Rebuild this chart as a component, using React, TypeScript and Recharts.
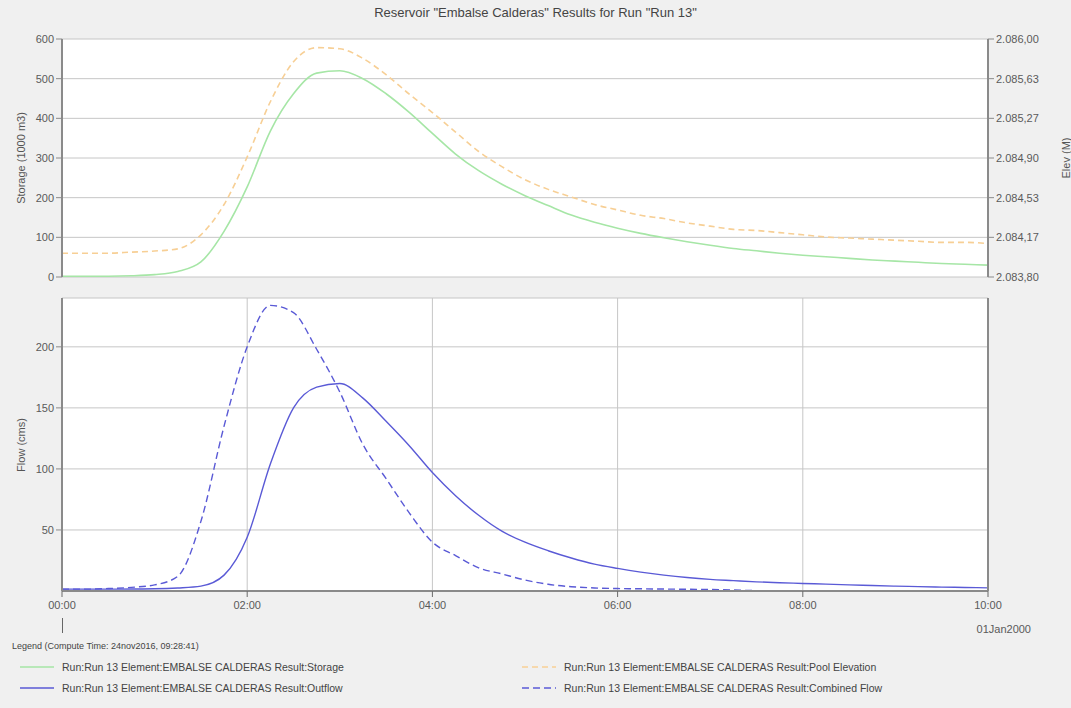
import React from "react";
import { LineChart, Line, CartesianGrid, XAxis, YAxis } from "recharts";

// time axis in hours after 00:00 01Jan2000, sampled every 15 min
const hours = [
  0, 0.25, 0.5, 0.75, 1, 1.25, 1.5, 1.75, 2, 2.25, 2.5, 2.75, 3, 3.25, 3.5, 3.75, 4, 4.25, 4.5, 4.75, 5,
  5.25, 5.5, 5.75, 6, 6.25, 6.5, 6.75, 7, 7.25, 7.5, 7.75, 8, 8.25, 8.5, 8.75, 9, 9.25, 9.5, 9.75, 10,
];
const storage = [
  2, 2, 2, 3, 6, 14, 38, 115, 227, 368, 462, 514, 520, 500, 462, 415, 362, 310, 268, 234, 205,
  180, 156, 138, 123, 110, 99, 89, 80, 72, 66, 60, 55, 51, 47, 43, 40, 37, 34, 32, 30,
];
const poolElevation = [
  2084.02, 2084.02, 2084.02, 2084.03, 2084.04, 2084.06, 2084.19, 2084.47, 2084.91, 2085.42, 2085.79, 2085.92,
  2085.91, 2085.82, 2085.67, 2085.49, 2085.32, 2085.14, 2084.96, 2084.82, 2084.7, 2084.61, 2084.54, 2084.47,
  2084.42, 2084.37, 2084.34, 2084.3, 2084.27, 2084.24, 2084.23, 2084.21, 2084.19, 2084.17, 2084.16, 2084.15,
  2084.14, 2084.13, 2084.12, 2084.12, 2084.11,
];
const outflow = [
  1.5, 1.5, 1.5, 1.6, 1.8, 2.5, 4, 13, 44, 104, 150, 167, 170, 158, 139, 119, 97, 78, 62, 49, 40,
  33, 27, 22, 18.5, 15.5, 13, 11, 9.5, 8.5, 7.5, 6.8, 6.2, 5.6, 5, 4.5, 4, 3.6, 3.2, 2.9, 2.6,
];
const combinedFlow = [
  1.5, 1.5, 2, 3, 5, 12, 57, 135, 200, 234, 228, 198, 163, 120, 92, 64, 40, 29, 19, 14, 9,
  5.5, 3.5, 2.5, 2, 1.8, 1.6, 1.4, 1.2, 0.8, 0.3, 0.1, 0, 0, 0, 0, 0, 0, 0, 0, 0,
];

const timeTicks = [0, 2, 4, 6, 8, 10];
const timeLabels = ["00:00", "02:00", "04:00", "06:00", "08:00", "10:00"];
const storageTicks = [0, 100, 200, 300, 400, 500, 600];
const elevTicks = [2083.8, 2084.1667, 2084.5333, 2084.9, 2085.2667, 2085.6333, 2086.0];
const flowTicks = [50, 100, 150, 200];

const legendItems = [
  { name: "Run:Run 13 Element:EMBALSE CALDERAS Result:Storage", color: "#a6e6a6", dash: "" },
  { name: "Run:Run 13 Element:EMBALSE CALDERAS Result:Pool Elevation", color: "#f7cf95", dash: "6 4" },
  { name: "Run:Run 13 Element:EMBALSE CALDERAS Result:Outflow", color: "#5a5ad6", dash: "" },
  { name: "Run:Run 13 Element:EMBALSE CALDERAS Result:Combined Flow", color: "#5a5ad6", dash: "7 4" },
];

const rows = hours.map((h, i) => ({
  h,
  storage: storage[i],
  elev: poolElevation[i],
  outflow: outflow[i],
  combined: combinedFlow[i],
}));

const FONT = "'Liberation Sans', Arial, sans-serif";
const tickStyle = { fill: "#5a5a5a", fontSize: 11, fontFamily: FONT };
const frame = { stroke: "#8a8a8a", strokeWidth: 2 };

const fmtElev = (v: number) => {
  const [i, d] = v.toFixed(2).split(".");
  return i.replace(/\B(?=(\d{3})+(?!\d))/g, ".") + "," + d;
};

const timeFmt = (v: number) => timeLabels[timeTicks.indexOf(v)] ?? "";

export default function App() {
  return (
    <div
      style={{
        position: "absolute",
        left: 0,
        top: 0,
        width: 1071,
        height: 708,
        background: "#f0f0f0",
        fontFamily: FONT,
        overflow: "hidden",
      }}
    >
      <div style={{ position: "absolute", left: 0, top: 5, width: 1071, textAlign: "center", fontSize: 13, color: "#444" }}>
        Reservoir "Embalse Calderas" Results for Run "Run 13"
      </div>

      {/* storage / elevation panel */}
      <div style={{ position: "absolute", left: 0, top: 0 }}>
        <LineChart width={1071} height={290} data={rows} margin={{ top: 39, right: 3, bottom: 13, left: 2 }}>
          <CartesianGrid yAxisId="s" stroke="#c6c6c6" fill="#ffffff" />
          <XAxis dataKey="h" type="number" domain={[0, 10]} ticks={timeTicks} tick={false} tickLine={false} height={0} axisLine={frame} />
          <XAxis xAxisId="top" orientation="top" type="number" domain={[0, 10]} ticks={timeTicks} tick={false} tickLine={false} height={0} axisLine={frame} />
          <YAxis
            yAxisId="s"
            domain={[0, 600]}
            ticks={storageTicks}
            width={60}
            tick={tickStyle}
            tickSize={6}
            tickMargin={2}
            axisLine={frame}
            tickLine={{ stroke: "#8a8a8a" }}
          />
          <YAxis
            yAxisId="e"
            orientation="right"
            domain={[2083.8, 2086]}
            ticks={elevTicks}
            width={80}
            tick={tickStyle}
            tickFormatter={fmtElev}
            tickSize={6}
            tickMargin={2}
            axisLine={frame}
            tickLine={{ stroke: "#8a8a8a" }}
          />
          <Line yAxisId="s" type="monotone" dataKey="storage" stroke="#a6e6a6" strokeWidth={1.6} dot={false} isAnimationActive={false} />
          <Line yAxisId="e" type="monotone" dataKey="elev" stroke="#f7cf95" strokeWidth={1.6} strokeDasharray="6 4" dot={false} isAnimationActive={false} />
        </LineChart>
      </div>

      {/* flow panel */}
      <div style={{ position: "absolute", left: 0, top: 290 }}>
        <LineChart width={1071} height={340} data={rows} margin={{ top: 8, right: 3, bottom: 9, left: 2 }}>
          <CartesianGrid stroke="#c6c6c6" fill="#ffffff" />
          <XAxis
            dataKey="h"
            type="number"
            domain={[0, 10]}
            ticks={timeTicks}
            tickFormatter={timeFmt}
            height={30}
            tick={tickStyle}
            tickSize={6}
            tickMargin={4}
            axisLine={frame}
            tickLine={{ stroke: "#6a6a6a" }}
          />
          <XAxis xAxisId="top" orientation="top" type="number" domain={[0, 10]} ticks={timeTicks} tick={false} tickLine={false} height={0} axisLine={frame} />
          <YAxis
            domain={[0, 240]}
            ticks={flowTicks}
            width={60}
            tick={tickStyle}
            tickSize={6}
            tickMargin={2}
            axisLine={frame}
            tickLine={{ stroke: "#8a8a8a" }}
          />
          <YAxis yAxisId="r" orientation="right" domain={[0, 240]} ticks={flowTicks} width={80} tick={false} tickLine={false} axisLine={frame} />
          <Line type="monotone" dataKey="outflow" stroke="#5a5ad6" strokeWidth={1.4} dot={false} isAnimationActive={false} />
          <Line type="monotone" dataKey="combined" stroke="#5a5ad6" strokeWidth={1.4} strokeDasharray="7 4" dot={false} isAnimationActive={false} />
        </LineChart>
      </div>

      {/* axis titles */}
      <div style={{ position: "absolute", left: 21, top: 158, transform: "translate(-50%, -50%) rotate(-90deg)", whiteSpace: "nowrap", fontSize: 11, color: "#555" }}>
        Storage (1000 m3)
      </div>
      <div style={{ position: "absolute", left: 1066, top: 158, transform: "translate(-50%, -50%) rotate(-90deg)", whiteSpace: "nowrap", fontSize: 11, color: "#555" }}>
        Elev (M)
      </div>
      <div style={{ position: "absolute", left: 21, top: 445, transform: "translate(-50%, -50%) rotate(-90deg)", whiteSpace: "nowrap", fontSize: 11, color: "#555" }}>
        Flow (cms)
      </div>

      {/* date marker */}
      <div style={{ position: "absolute", left: 62, top: 618, width: 1, height: 15, background: "#666" }} />
      <div style={{ position: "absolute", right: 40, top: 623, fontSize: 11, color: "#5a5a5a" }}>01Jan2000</div>

      {/* legend */}
      <div style={{ position: "absolute", left: 12, top: 641, fontSize: 9, color: "#444" }}>
        Legend (Compute Time: 24nov2016, 09:28:41)
      </div>
      {legendItems.map((it, i) => {
        const col = i % 2;
        const row = Math.floor(i / 2);
        return (
          <div
            key={it.name}
            style={{ position: "absolute", left: col === 0 ? 20 : 522, top: 661 + row * 21, display: "flex", alignItems: "center", fontSize: 10.5, color: "#444", whiteSpace: "nowrap" }}
          >
            <svg width={34} height={10} style={{ marginRight: 8 }}>
              <line x1={0} y1={5} x2={34} y2={5} stroke={it.color} strokeWidth={1.6} strokeDasharray={it.dash || undefined} />
            </svg>
            {it.name}
          </div>
        );
      })}
    </div>
  );
}
